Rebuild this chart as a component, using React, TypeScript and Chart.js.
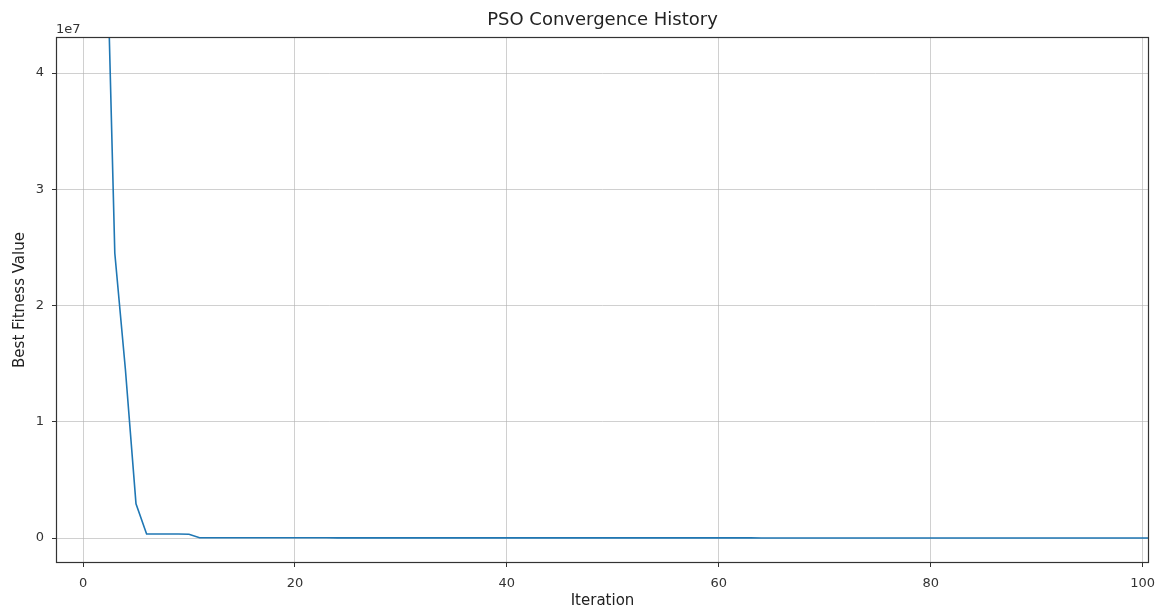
import { useEffect, useRef } from "react";
import { Chart, registerables } from "chart.js";

Chart.register(...registerables);

const chartTitle = "PSO Convergence History";
const xAxisLabel = "Iteration";
const yAxisLabel = "Best Fitness Value";
const yExponentLabel = "1e7";

// Best fitness value per iteration
const bestFitness = [
  120000000, 85000000, 60300000, 24500000, 14500000, 2940000, 340000, 340000, 340000, 340000,
  320000, 21000, 21000, 21000, 19000, 19000, 18000, 18000, 18000, 17000,
  17000, 16000, 16000, 16000, 15000, 15000, 15000, 14000, 14000, 14000,
  13000, 13000, 13000, 12000, 12000, 12000, 11000, 11000, 11000, 11000,
  10000, 10000, 10000, 10000, 9500, 9500, 9500, 9500, 9000, 9000,
  9000, 9000, 8500, 8500, 8500, 8500, 8000, 8000, 8000, 8000,
  7500, 7500, 7500, 7500, 7000, 7000, 7000, 7000, 7000, 6500,
  6500, 6500, 6500, 6500, 6000, 6000, 6000, 6000, 6000, 6000,
  5500, 5500, 5500, 5500, 5500, 5500, 5000, 5000, 5000, 5000,
  5000, 5000, 5000, 4800, 4800, 4800, 4800, 4800, 4800, 4800,
  4800, 4800,
];
const iterations = bestFitness.map((_, i) => i);

const xTicks = [0, 20, 40, 60, 80, 100];
const xTickLabels = ["0", "20", "40", "60", "80", "100"];
const yTicks = [0, 10000000, 20000000, 30000000, 40000000];
const yTickLabels = ["0", "1", "2", "3", "4"];
const xMin = -2.55;
const xMax = 100.6;
const yMin = -2150000;
const yMax = 43100000;

const FONT = "'DejaVu Sans', sans-serif";

export default function App() {
  const canvasRef = useRef<HTMLCanvasElement | null>(null);

  useEffect(() => {
    const canvas = canvasRef.current;
    if (!canvas) return;
    Chart.defaults.font.family = FONT;

    const framePlugin = {
      id: "frame",
      afterDatasetsDraw(chart: any) {
        const { ctx, chartArea } = chart;
        const { left, top, right, bottom } = chartArea;
        ctx.save();
        ctx.strokeStyle = "#333";
        ctx.lineWidth = 1.2;
        ctx.strokeRect(left + 0.5, top + 0.5, right - left - 1, bottom - top - 1);
        ctx.fillStyle = "#333";
        ctx.font = `13px ${FONT}`;
        ctx.textAlign = "left";
        ctx.textBaseline = "alphabetic";
        ctx.fillText(yExponentLabel, left, top - 4);
        // axes title, centred over the plot area
        ctx.fillStyle = "#222";
        ctx.font = `18px ${FONT}`;
        ctx.textAlign = "center";
        ctx.textBaseline = "middle";
        ctx.fillText(chartTitle, (left + right) / 2, 20);
        ctx.restore();
      },
    };

    const chart = new Chart(canvas, {
      type: "line",
      data: {
        datasets: [
          {
            data: iterations.map((x, i) => ({ x, y: bestFitness[i] })),
            borderColor: "#1f77b4",
            borderWidth: 1.6,
            pointRadius: 0,
            tension: 0,
            fill: false,
            clip: 0,
          } as any,
        ],
      },
      options: {
        animation: false,
        responsive: false,
        maintainAspectRatio: false,
        layout: { padding: { left: 0, right: 6, top: 37, bottom: 0 } },
        plugins: {
          legend: { display: false },
          tooltip: { enabled: false },
          title: { display: false },
        },
        scales: {
          x: {
            type: "linear",
            min: xMin,
            max: xMax,
            afterBuildTicks: (scale: any) => {
              scale.ticks = xTicks.map((v) => ({ value: v }));
            },
            afterFit: (scale: any) => {
              scale.height = 44;
              scale.paddingLeft = 0;
              scale.paddingRight = 0;
            },
            ticks: {
              color: "#333",
              font: { family: FONT, size: 13 },
              padding: 9,
              autoSkip: false,
              maxRotation: 0,
              callback: (v: any) => xTickLabels[xTicks.indexOf(Number(v))] ?? "",
            },
            grid: {
              color: "rgba(176,176,176,0.6)",
              lineWidth: 1,
              tickLength: 4,
              tickColor: "#333",
              drawTicks: true,
            },
            border: { display: false },
            title: {
              display: true,
              text: xAxisLabel,
              color: "#222",
              font: { family: FONT, size: 15, lineHeight: 0.8 },
              padding: { top: 0, bottom: 0 },
            },
          },
          y: {
            type: "linear",
            min: yMin,
            max: yMax,
            afterBuildTicks: (scale: any) => {
              scale.ticks = yTicks.map((v) => ({ value: v }));
            },
            afterFit: (scale: any) => {
              scale.width = 56;
              scale.paddingTop = 0;
              scale.paddingBottom = 0;
            },
            ticks: {
              color: "#333",
              font: { family: FONT, size: 13 },
              padding: 8,
              autoSkip: false,
              callback: (v: any) => yTickLabels[yTicks.indexOf(Number(v))] ?? "",
            },
            grid: {
              color: "rgba(176,176,176,0.6)",
              lineWidth: 1,
              tickLength: 4,
              tickColor: "#333",
              drawTicks: true,
            },
            border: { display: false },
            title: {
              display: true,
              text: yAxisLabel,
              color: "#222",
              font: { family: FONT, size: 15, lineHeight: 1.2 },
              padding: { top: 11, bottom: 0 },
            },
          },
        },
      },
      plugins: [framePlugin],
    });

    return () => {
      chart.destroy();
    };
  }, []);

  return (
    <div style={{ position: "fixed", left: 0, top: 0, width: 1155, height: 607, background: "#fff" }}>
      <canvas ref={canvasRef} width={1155} height={607} style={{ display: "block" }} />
    </div>
  );
}
